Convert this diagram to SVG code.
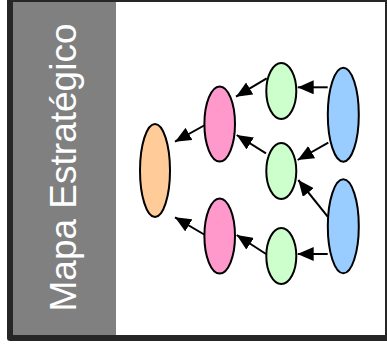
<svg xmlns="http://www.w3.org/2000/svg" width="387" height="347" viewBox="0 0 387 347">
<style>
.n{stroke:#000;stroke-width:2}
.c line{stroke:#000;stroke-width:2;marker-end:url(#ah)}
.t{font-family:"Liberation Sans",Arial,sans-serif;font-size:37px;fill:#fff}
</style>
<defs>
<marker id="ah" viewBox="0 0 16 14" refX="16" refY="7" markerWidth="16" markerHeight="14" markerUnits="userSpaceOnUse" orient="auto">
<path d="M16,7 L0,0 L0,14 z" fill="#000"/>
</marker>
</defs>
<g id="frame">
<rect x="7" y="-5" width="385" height="346" rx="3" fill="#262626"/>
<rect x="13" y="2" width="103" height="333" fill="#808080"/>
<rect x="116" y="2" width="269" height="333" fill="#fff"/>
<text class="t" transform="translate(76,167.5) rotate(-90)" text-anchor="middle">Mapa Estratégico</text>
</g>
<g class="c" id="connectors">
<line x1="327.7" y1="87.3" x2="297.7" y2="87.3"/>
<line x1="266.7" y1="78.3" x2="236" y2="96.7"/>
<line x1="205" y1="125" x2="175" y2="141.7"/>
<line x1="266" y1="153.3" x2="236.7" y2="135"/>
<line x1="328.3" y1="142.7" x2="297.7" y2="160"/>
<line x1="327.7" y1="216.7" x2="298.3" y2="180"/>
<line x1="327.7" y1="254" x2="297.7" y2="254"/>
<line x1="266" y1="254" x2="236.7" y2="235"/>
<line x1="205" y1="235" x2="175" y2="217.3"/>
</g>
<g id="orange"><ellipse class="n" cx="155" cy="170.5" rx="15" ry="46.5" fill="#FFCC99"/></g>
<g id="pink1"><ellipse class="n" cx="219.7" cy="124" rx="15.3" ry="37.5" fill="#FF99CC"/></g>
<g id="pink2"><ellipse class="n" cx="219.7" cy="236" rx="15.3" ry="37.5" fill="#FF99CC"/></g>
<g id="green1"><ellipse class="n" cx="281.3" cy="91" rx="15" ry="28" fill="#CCFFCC"/></g>
<g id="green2"><ellipse class="n" cx="281.3" cy="171" rx="15" ry="28" fill="#CCFFCC"/></g>
<g id="green3"><ellipse class="n" cx="281.3" cy="256" rx="15" ry="28" fill="#CCFFCC"/></g>
<g id="blue1"><ellipse class="n" cx="343.3" cy="114.7" rx="15.5" ry="47" fill="#99CCFF"/></g>
<g id="blue2"><ellipse class="n" cx="343.3" cy="226.3" rx="15.5" ry="47" fill="#99CCFF"/></g>
</svg>
